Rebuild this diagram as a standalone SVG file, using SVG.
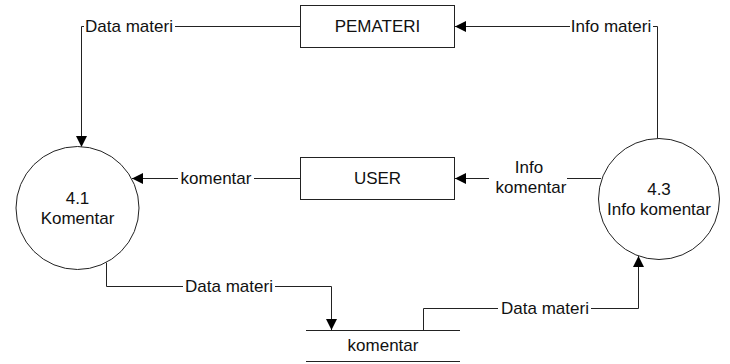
<svg xmlns="http://www.w3.org/2000/svg" width="730" height="364" viewBox="0 0 730 364">
<defs>
<marker id="arr" viewBox="0 0 11 11" refX="11" refY="5.5" markerWidth="11" markerHeight="11" markerUnits="userSpaceOnUse" orient="auto">
<path d="M0,0 L11,5.5 L0,11 Z" fill="#000"/>
</marker>
<style>
text{font-family:"Liberation Sans",Arial,sans-serif;font-size:17px;fill:#111;text-anchor:middle}
.shape{fill:#fff;stroke:#222;stroke-width:1}
.line{fill:none;stroke:#222;stroke-width:1}
.lbl{fill:#fff;stroke:none}
</style>
</defs>
<rect width="730" height="364" fill="#fff"/>
<g id="connectors">
<path class="line" d="M300.5,26.5 H81.5 V147" marker-end="url(#arr)"/>
<path class="line" d="M657.5,138.5 V26.5 H455" marker-end="url(#arr)"/>
<path class="line" d="M601,178.5 H455" marker-end="url(#arr)"/>
<path class="line" d="M300.5,178.5 H132" marker-end="url(#arr)"/>
<path class="line" d="M106.5,262.5 V286.5 H331.5 V330" marker-end="url(#arr)"/>
<path class="line" d="M423.5,330 V308.5 H638.5 V256" marker-end="url(#arr)"/>
<rect class="lbl" x="84" y="16" width="91" height="20"/>
<text x="129" y="32">Data materi</text>
<rect class="lbl" x="570" y="16" width="83" height="20"/>
<text x="611" y="32">Info materi</text>
<rect class="lbl" x="489" y="156" width="78" height="42"/>
<text x="529" y="173">Info</text>
<text x="531" y="193">komentar</text>
<rect class="lbl" x="178" y="168" width="76" height="20"/>
<text x="216" y="184">komentar</text>
<rect class="lbl" x="183" y="276" width="92" height="20"/>
<text x="229" y="292">Data materi</text>
<rect class="lbl" x="498" y="298" width="93" height="20"/>
<text x="545" y="314">Data materi</text>
</g>
<g id="pemateri">
<rect class="shape" x="300.5" y="5.5" width="154" height="42"/>
<text x="377.5" y="32">PEMATERI</text>
</g>
<g id="user">
<rect class="shape" x="300.5" y="157.5" width="154" height="42"/>
<text x="377.5" y="184">USER</text>
</g>
<g id="p41">
<circle class="shape" cx="77.5" cy="208" r="61.5"/>
<text x="77.5" y="204">4.1</text>
<text x="77.5" y="224">Komentar</text>
</g>
<g id="p43">
<circle class="shape" cx="659" cy="199" r="60.5"/>
<text x="659" y="195">4.3</text>
<text x="659" y="215">Info komentar</text>
</g>
<g id="store">
<line class="line" x1="306" y1="330.5" x2="460" y2="330.5"/>
<line class="line" x1="306" y1="361.5" x2="460" y2="361.5"/>
<text x="383" y="351">komentar</text>
</g>
</svg>
